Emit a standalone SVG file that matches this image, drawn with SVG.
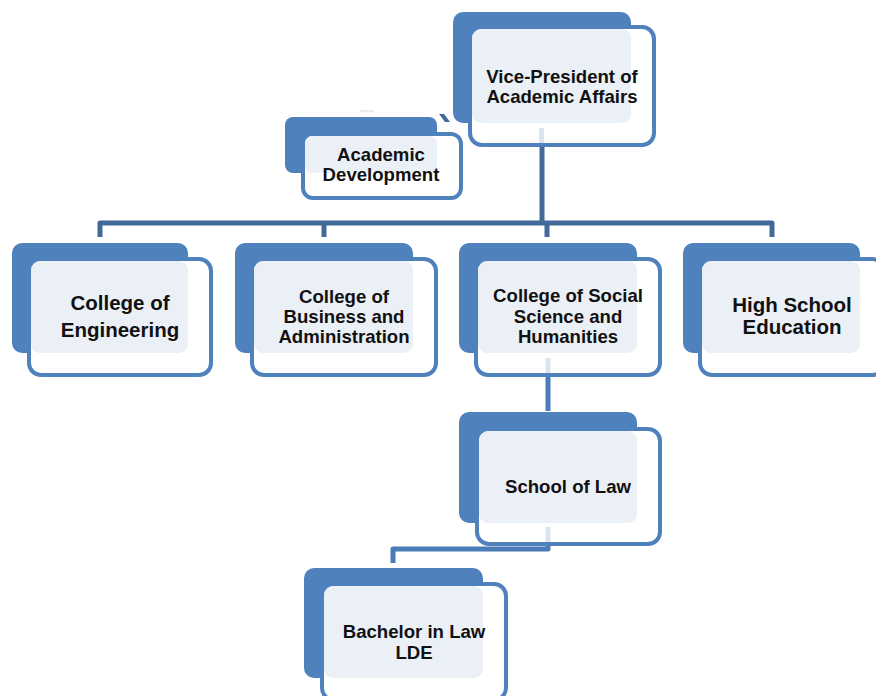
<svg xmlns="http://www.w3.org/2000/svg" width="876" height="696" viewBox="0 0 876 696">
  <style>
    .back { fill: #4f81bd; }
    .front { fill: #ffffff; stroke: #4f81bd; stroke-width: 4; }
    .panel { fill: #ebf0f7; }
    .lbl { font-family: "Liberation Sans", Arial, sans-serif; font-weight: bold; font-size: 18.6px; fill: #111111; text-anchor: middle; }
    .big { font-size: 20.5px; }
    .trunk { fill: none; stroke: #41699a; stroke-width: 5; stroke-linejoin: round; }
    .branch { fill: none; stroke: #4a7cb8; stroke-width: 5; stroke-linejoin: round; }
    .stub { fill: none; stroke: #dce4ef; stroke-width: 5; }
  </style>

  <rect width="876" height="696" fill="#ffffff"/>

  <!-- connectors -->
  <g id="connectors">
    <path class="trunk" d="M542 145 V223"/>
    <path class="trunk" d="M100 237 V223 H772 V237 M324 223 V237 M547 223 V237"/>
    <path class="branch" d="M548 377 V411"/>
    <path class="branch" d="M548 543 V549 H393 V563"/>
    <polygon points="439,114 444,114 450,122 445,122" fill="#41699a"/>
    <line x1="360" y1="111" x2="374" y2="111" stroke="#dce4ef" stroke-width="1.5"/>
  </g>

  <!-- Vice-President of Academic Affairs -->
  <g id="node-vp">
    <rect class="back" x="453" y="12" width="178" height="111" rx="10"/>
    <rect class="front" x="470" y="27" width="184" height="118" rx="12"/>
    <rect class="panel" x="472" y="29" width="159" height="94" rx="9"/>
    <line class="stub" x1="541.5" y1="128" x2="541.5" y2="143"/>
    <text class="lbl" x="562" y="83">Vice-President of</text>
    <text class="lbl" x="562" y="103">Academic Affairs</text>
  </g>

  <!-- Academic Development -->
  <g id="node-academic-development">
    <rect class="back" x="285" y="117" width="152" height="56" rx="8"/>
    <rect class="front" x="303" y="134" width="158" height="64" rx="10"/>
    <rect class="panel" x="305" y="136" width="132" height="37" rx="7"/>
    <text class="lbl" x="381" y="161">Academic</text>
    <text class="lbl" x="381" y="181">Development</text>
  </g>

  <!-- College of Engineering -->
  <g id="node-engineering">
    <rect class="back" x="12" y="243" width="176" height="110" rx="10"/>
    <rect class="front" x="29" y="259" width="182" height="116" rx="12"/>
    <rect class="panel" x="31" y="261" width="157" height="92" rx="9"/>
    <text class="lbl big" x="120" y="310">College of</text>
    <text class="lbl big" x="120" y="337">Engineering</text>
  </g>

  <!-- College of Business and Administration -->
  <g id="node-business">
    <rect class="back" x="235" y="243" width="178" height="110" rx="10"/>
    <rect class="front" x="252" y="259" width="184" height="116" rx="12"/>
    <rect class="panel" x="254" y="261" width="159" height="92" rx="9"/>
    <text class="lbl" x="344" y="303">College of</text>
    <text class="lbl" x="344" y="323">Business and</text>
    <text class="lbl" x="344" y="343">Administration</text>
  </g>

  <!-- College of Social Science and Humanities -->
  <g id="node-social">
    <rect class="back" x="459" y="243" width="178" height="110" rx="10"/>
    <rect class="front" x="476" y="259" width="184" height="116" rx="12"/>
    <rect class="panel" x="478" y="261" width="159" height="92" rx="9"/>
    <line class="stub" x1="548" y1="358" x2="548" y2="373"/>
    <text class="lbl" x="568" y="302">College of Social</text>
    <text class="lbl" x="568" y="323">Science and</text>
    <text class="lbl" x="568" y="343">Humanities</text>
  </g>

  <!-- High School Education -->
  <g id="node-high-school">
    <rect class="back" x="683" y="243" width="177" height="110" rx="10"/>
    <rect class="front" x="700" y="259" width="184" height="116" rx="12"/>
    <rect class="panel" x="702" y="261" width="158" height="92" rx="9"/>
    <text class="lbl big" x="792" y="312">High School</text>
    <text class="lbl big" x="792" y="334">Education</text>
  </g>

  <!-- School of Law -->
  <g id="node-school-of-law">
    <rect class="back" x="459" y="412" width="178" height="111" rx="10"/>
    <rect class="front" x="477" y="429" width="183" height="115" rx="12"/>
    <rect class="panel" x="479" y="431" width="158" height="92" rx="9"/>
    <line class="stub" x1="548" y1="527" x2="548" y2="542"/>
    <text class="lbl" x="568" y="493">School of Law</text>
  </g>

  <!-- Bachelor in Law LDE -->
  <g id="node-bachelor">
    <rect class="back" x="304" y="568" width="179" height="110" rx="10"/>
    <rect class="front" x="322" y="584" width="184" height="116" rx="12"/>
    <rect class="panel" x="324" y="586" width="159" height="92" rx="9"/>
    <text class="lbl" x="414" y="638">Bachelor in Law</text>
    <text class="lbl" x="414" y="659">LDE</text>
  </g>
</svg>
